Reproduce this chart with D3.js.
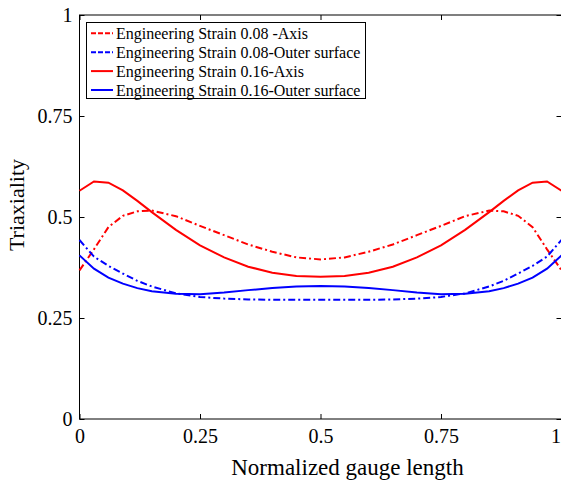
<!DOCTYPE html>
<html>
<head>
<meta charset="utf-8">
<script src="https://cdnjs.cloudflare.com/ajax/libs/d3/7.8.5/d3.min.js"></script>
<style>
body { margin: 0; background: #fff; }
</style>
</head>
<body>
<div id="chart"></div>
<script>
var w = 561;
var h = 481;
var margin = {left: 79.5, right: -0.5, top: 15, bottom: 62};
var serif = "'Liberation Serif', 'Times New Roman', 'DejaVu Serif', serif";

// normalized positions along the gauge
var gauge = [0, 0.03, 0.06, 0.09, 0.12, 0.15, 0.2, 0.25, 0.3, 0.35, 0.4, 0.45, 0.5,
             0.55, 0.6, 0.65, 0.7, 0.75, 0.8, 0.85, 0.88, 0.91, 0.94, 0.97, 1];

var axis008 = [0.368, 0.420, 0.475, 0.503, 0.514, 0.516, 0.502, 0.478, 0.455, 0.432, 0.414, 0.400, 0.395,
               0.400, 0.414, 0.432, 0.455, 0.478, 0.502, 0.516, 0.514, 0.503, 0.475, 0.420, 0.368];
var outer008 = [0.443, 0.402, 0.379, 0.360, 0.342, 0.328, 0.311, 0.302, 0.298, 0.296, 0.295, 0.295, 0.295,
                0.295, 0.295, 0.296, 0.298, 0.302, 0.311, 0.328, 0.342, 0.360, 0.379, 0.402, 0.443];
var axis016 = [0.565, 0.588, 0.585, 0.566, 0.540, 0.512, 0.468, 0.430, 0.400, 0.377, 0.362, 0.354, 0.352,
               0.354, 0.362, 0.377, 0.400, 0.430, 0.468, 0.512, 0.540, 0.566, 0.585, 0.588, 0.565];
var outer016 = [0.405, 0.372, 0.350, 0.335, 0.324, 0.316, 0.310, 0.309, 0.313, 0.319, 0.324, 0.328, 0.329,
                0.328, 0.324, 0.319, 0.313, 0.309, 0.310, 0.316, 0.324, 0.335, 0.350, 0.372, 0.405];

var seriesNames = ["Engineering Strain 0.08 -Axis", "Engineering Strain 0.08-Outer surface",
                   "Engineering Strain 0.16-Axis", "Engineering Strain 0.16-Outer surface"];
var seriesColors = ["#ff0000", "#0000ff", "#ff0000", "#0000ff"];
var seriesDash = ["7,3,2,3", "7,3,2,3", null, null];
var seriesData = [axis008, outer008, axis016, outer016];

var xTicks = [0, 0.25, 0.5, 0.75, 1];
var xTickLabels = ["0", "0.25", "0.5", "0.75", "1"];
var yTicks = [0, 0.25, 0.5, 0.75, 1];
var yTickLabels = ["0", "0.25", "0.5", "0.75", "1"];

var svg = d3.select("#chart").append("svg").attr("width", w).attr("height", h)
    .attr("font-family", serif);

var x = d3.scaleLinear().domain([0, 1]).range([margin.left, w - margin.right]);
var y = d3.scaleLinear().domain([0, 1]).range([h - margin.bottom, margin.top]);

// box
svg.append("rect")
    .attr("x", x(0)).attr("y", y(1))
    .attr("width", x(1) - x(0)).attr("height", y(0) - y(1))
    .attr("fill", "none").attr("stroke", "#000").attr("stroke-width", 1);

// ticks inward
var tickLen = 5;
var xb = svg.append("g").attr("transform", "translate(0," + y(0) + ")")
    .call(d3.axisBottom(x).tickValues(xTicks).tickSizeInner(-tickLen).tickSizeOuter(0).tickPadding(10)
        .tickFormat(function(d, i){ return xTickLabels[i]; }))
    .call(function(g){ g.select(".domain").remove(); });
xb.selectAll("text").attr("font-size", "20px").attr("fill", "#000").attr("font-family", serif)
    .attr("text-anchor", function(d){ return d === 1 ? "end" : "middle"; })
    .attr("dx", function(d){ return d === 1 ? "-1" : "0"; });

svg.append("g").attr("transform", "translate(0," + y(1) + ")")
    .call(d3.axisTop(x).tickValues(xTicks).tickSizeInner(-tickLen).tickSizeOuter(0).tickFormat(""))
    .call(function(g){ g.select(".domain").remove(); });

svg.append("g").attr("transform", "translate(" + x(0) + ",0)")
    .call(d3.axisLeft(y).tickValues(yTicks).tickSizeInner(-tickLen).tickSizeOuter(0).tickPadding(7)
        .tickFormat(function(d, i){ return yTickLabels[i]; }))
    .call(function(g){ g.select(".domain").remove(); })
    .selectAll("text").attr("font-size", "20px").attr("fill", "#000").attr("font-family", serif);

svg.append("g").attr("transform", "translate(" + x(1) + ",0)")
    .call(d3.axisRight(y).tickValues(yTicks).tickSizeInner(-tickLen).tickSizeOuter(0).tickFormat(""))
    .call(function(g){ g.select(".domain").remove(); });

// lines
var line = d3.line()
    .x(function(d){ return x(d[0]); })
    .y(function(d){ return y(d[1]); });

seriesData.forEach(function(vals, k){
    svg.append("path")
        .datum(gauge.map(function(g, i){ return [g, vals[i]]; }))
        .attr("d", line)
        .attr("fill", "none")
        .attr("stroke", seriesColors[k])
        .attr("stroke-width", 2)
        .attr("stroke-dasharray", seriesDash[k]);
});

// axis titles
svg.append("text")
    .attr("x", 347.5)
    .attr("y", 475)
    .attr("text-anchor", "middle")
    .attr("font-size", "23px")
    .text("Normalized gauge length");

svg.append("text")
    .attr("transform", "translate(24,205) rotate(-90)")
    .attr("text-anchor", "middle")
    .attr("font-size", "22px")
    .text("Triaxiality");

// legend
var legend = svg.append("g");
legend.append("rect")
    .attr("x", 86.5).attr("y", 22.5).attr("width", 279).attr("height", 76)
    .attr("fill", "#fff").attr("stroke", "#000").attr("stroke-width", 1);

seriesNames.forEach(function(name, k){
    var ly = 33.3 + k * 18.9;
    legend.append("line")
        .attr("x1", 91).attr("x2", 113).attr("y1", ly).attr("y2", ly)
        .attr("stroke", seriesColors[k]).attr("stroke-width", 2)
        .attr("stroke-dasharray", seriesDash[k] ? "5,2" : null);
    legend.append("text")
        .attr("x", 116).attr("y", ly + 5.5)
        .attr("font-size", "16px")
        .text(name);
});
</script>
</body>
</html>
